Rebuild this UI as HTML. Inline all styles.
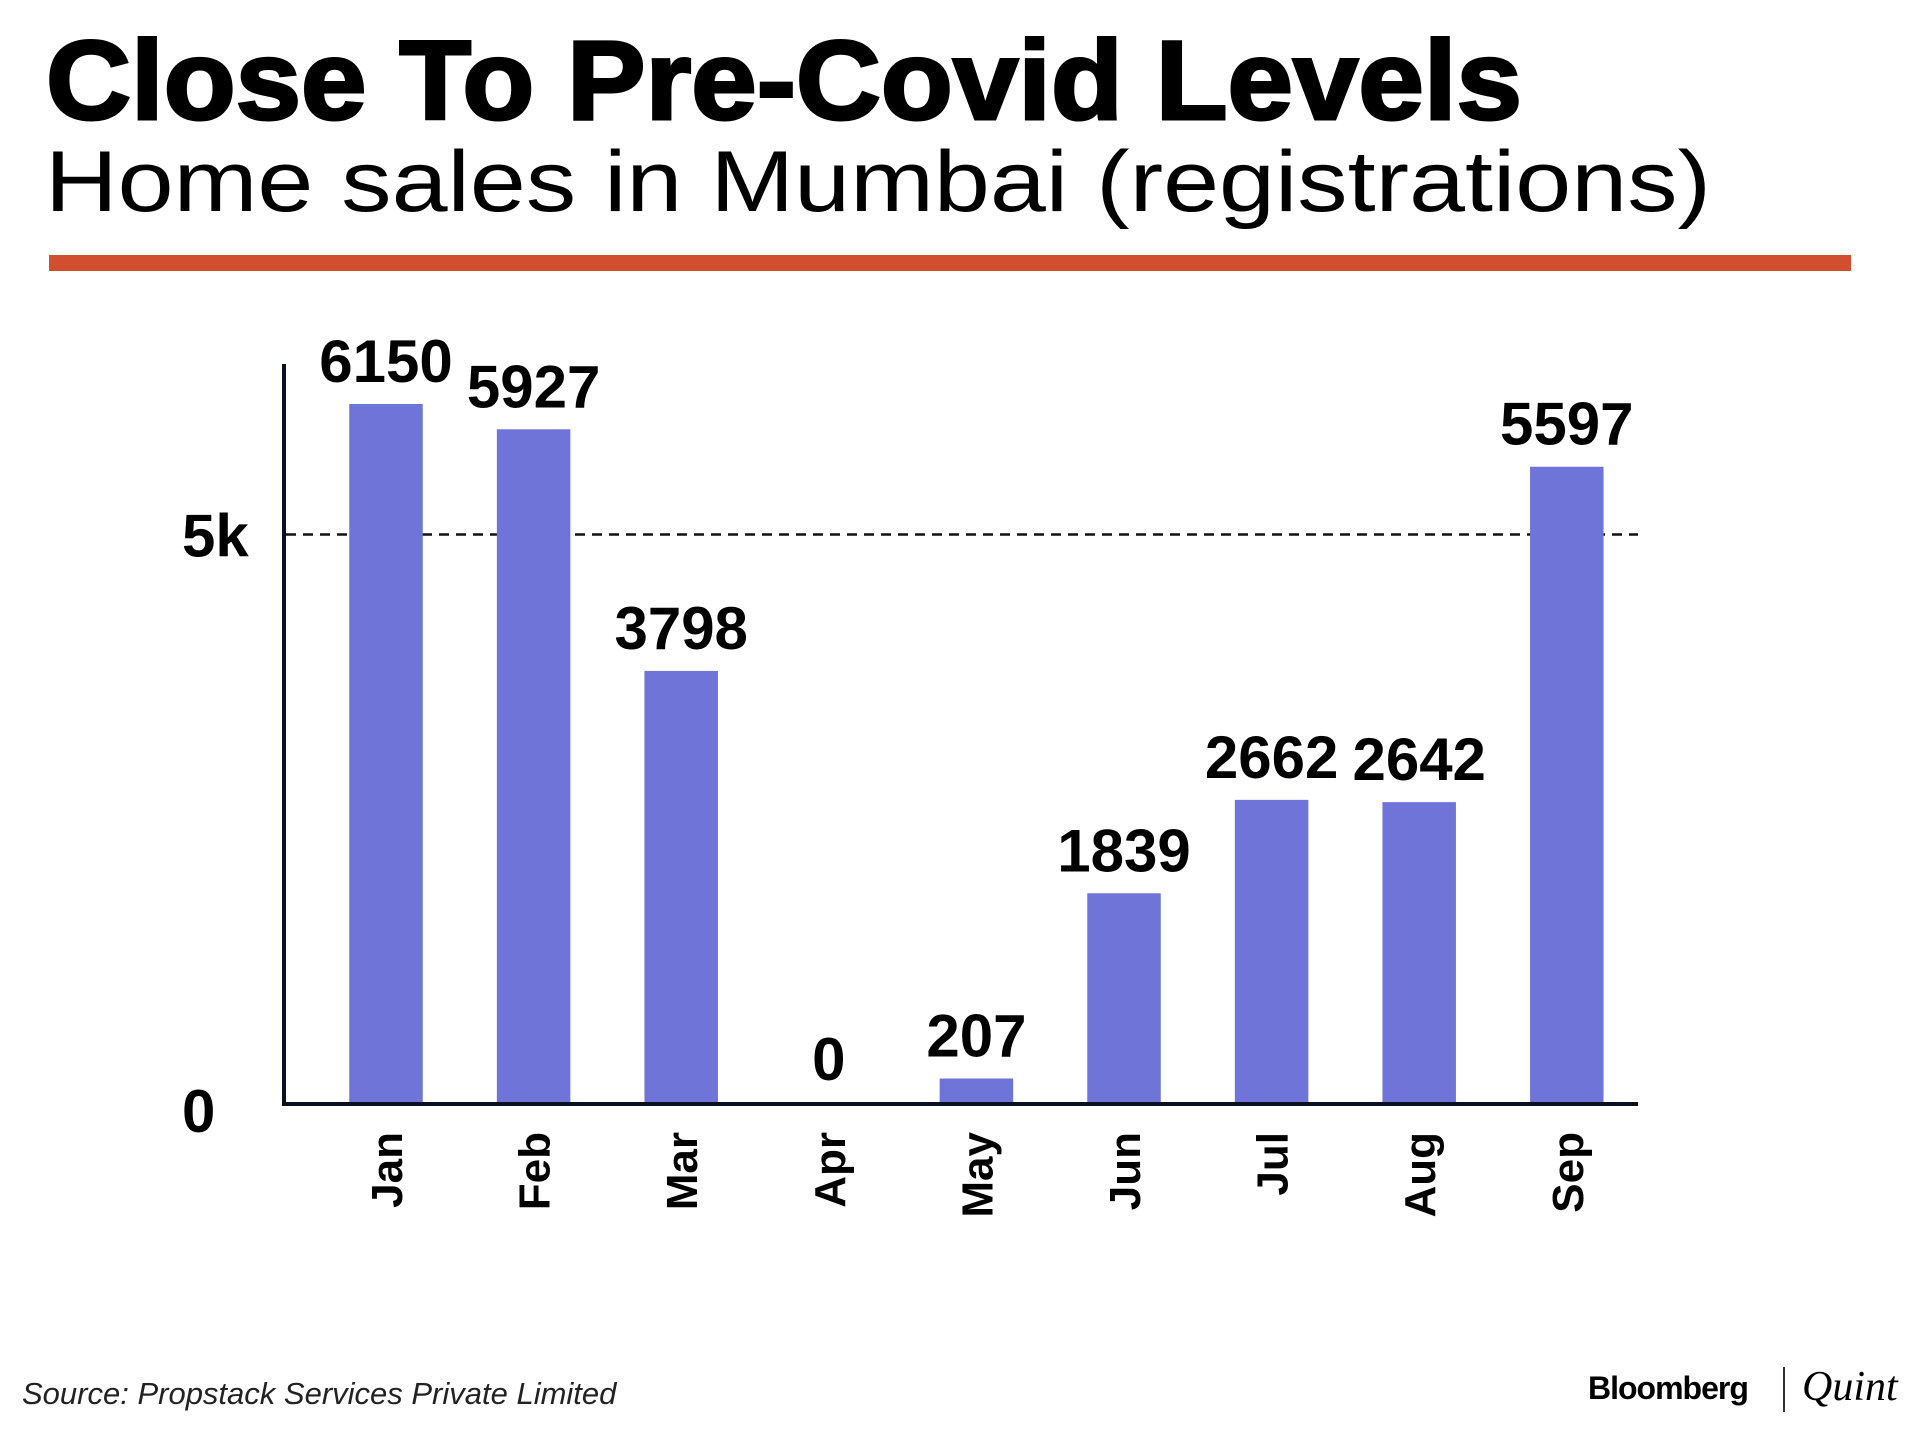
<!DOCTYPE html>
<html><head><meta charset="utf-8"><style>
html,body{margin:0;padding:0;background:#fff;}
svg{display:block;font-family:"Liberation Sans",Arial,sans-serif;}
</style></head><body>
<svg id="chart" width="1920" height="1431" viewBox="0 0 1920 1431">
<text x="46" y="119" font-size="112" font-weight="bold" textLength="1476" lengthAdjust="spacingAndGlyphs" fill="#000" stroke="#000" stroke-width="3">Close To Pre-Covid Levels</text>
<text x="45" y="211" font-size="86" textLength="1666" lengthAdjust="spacingAndGlyphs" fill="#000">Home sales in Mumbai (registrations)</text>
<rect x="49" y="255" width="1802" height="16" fill="#d14f2e"/>
<g id="plot"></g>
<line x1="284" y1="364" x2="284" y2="1106" stroke="#0a1020" stroke-width="4"/>
<line x1="282" y1="1104" x2="1638" y2="1104" stroke="#0a1020" stroke-width="4"/>
<text x="22" y="1404" font-size="31" font-style="italic" fill="#222">Source: Propstack Services Private Limited</text>
<text x="1588" y="1399" font-size="32" font-weight="bold" fill="#000" letter-spacing="-1">Bloomberg</text>
<line x1="1784" y1="1367" x2="1784" y2="1412" stroke="#333" stroke-width="2"/>
<text x="1802" y="1400" font-size="42" font-style="italic" font-family="Liberation Serif, serif" fill="#000">Quint</text>
</svg>
<script>
const categories = ["Jan","Feb","Mar","Apr","May","Jun","Jul","Aug","Sep"];
const values = [6150,5927,3798,0,207,1839,2662,2642,5597];
const tickValues = [0,5000];
const tickLabels = ["0","5k"];
const NS="http://www.w3.org/2000/svg";
const g=document.getElementById('plot');
const y0=1102, yPer=0.1135;
function yScale(v){return y0-v*yPer;}
function xScale(i){return 386+i*147.6;}
const bw=73.5;
function mk(tag,attrs){const e=document.createElementNS(NS,tag);for(const k in attrs)e.setAttribute(k,attrs[k]);g.appendChild(e);return e;}
tickValues.forEach((t,i)=>{
  const lab=mk('text',{x:182,y:yScale(t)+(t===0?30:22),'font-size':60,'font-weight':'bold','text-anchor':'start',fill:'#000'});
  lab.textContent=tickLabels[i];
  
  
  if(t!==0){
    const l=mk('line',{x1:286,x2:1638,y1:yScale(t),y2:yScale(t),stroke:'#111','stroke-width':2.5,'stroke-dasharray':'10 7'});
    
    
  }
});
categories.forEach((c,i)=>{
  const v=values[i];
  const cx=xScale(i);
  if(v>0){
    const r=mk('rect',{x:cx-bw/2,y:yScale(v),width:bw,height:y0-yScale(v),fill:'#6f75d8'});
    
    
  }
  const t=mk('text',{x:cx,y:yScale(v)-22,'font-size':60,'font-weight':'bold','text-anchor':'middle',fill:'#000'});
  t.textContent=String(v);
  
  
  const xl=mk('text',{x:0,y:0,'font-size':44,'font-weight':'bold','text-anchor':'end',fill:'#000',transform:`translate(${cx+16},1132) rotate(-90)`});
  xl.textContent=c;
  
  
});
</script>
</body></html>
